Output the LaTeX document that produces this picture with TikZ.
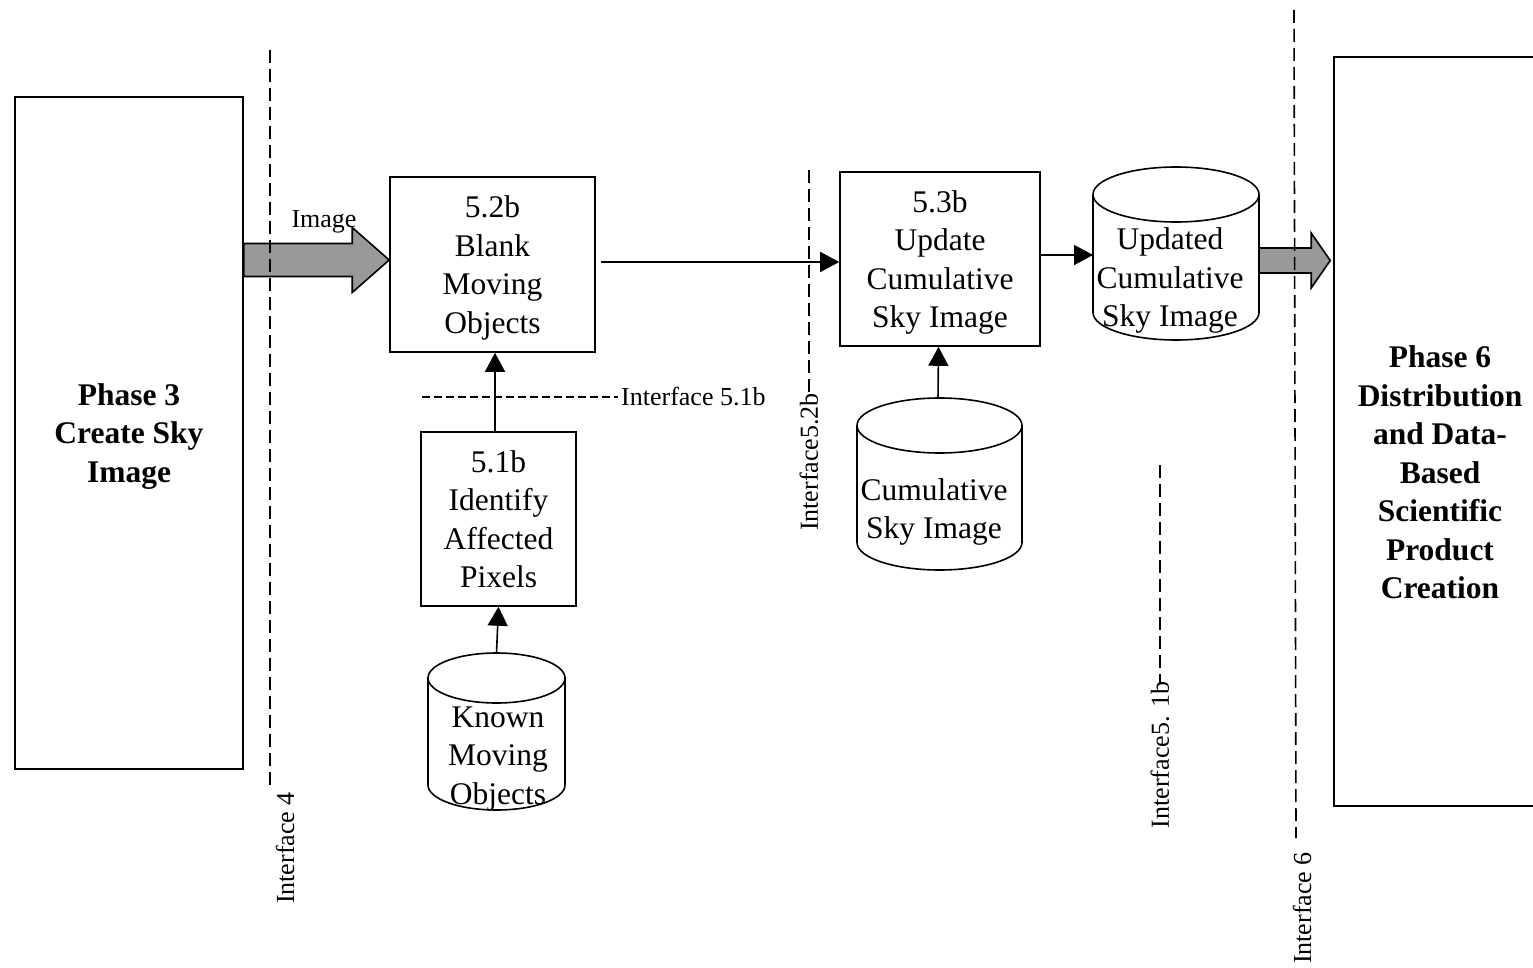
\documentclass[tikz,border=0pt]{standalone}
\usepackage{fontspec}
\setmainfont{Liberation Serif}
\usetikzlibrary{arrows.meta,calc}
\definecolor{arrowgray}{RGB}{153,153,153}
\newcommand\diagbig{\fontsize{31.5}{38.5}\selectfont}
\newcommand\diagsmall{\fontsize{26}{31}\selectfont}
% database drum drawn around an empty node: #1 node, #2 half width, #3 ellipse y radius
\newcommand\drawdrum[3]{%
  \draw[drumline] ($(#1.north west)+(0,#3)$) -- ($(#1.south west)+(0,-#3)$)
    arc[start angle=180,end angle=360,x radius=#2pt,y radius=#3pt]
    -- ($(#1.north east)+(0,#3)$);
  \draw[drumline] ($(#1.north)+(0,#3)$) ellipse[x radius=#2pt,y radius=#3pt];}
\begin{document}
\begin{tikzpicture}[x=1pt,y=-1pt,
  box/.style={draw,line width=1.6pt,inner sep=0pt,align=center,font=\diagbig,text depth=0pt},
  bigbold/.style={align=center,font=\diagbig\bfseries,inner sep=0pt},
  drumbody/.style={inner sep=0pt,outer sep=0pt},
  drumline/.style={line width=1.6pt},
  drumtext/.style={align=center,font=\diagbig,inner sep=0pt},
  flow/.style={line width=1.6pt,-{Triangle[length=19pt,width=20pt]}},
  iface/.style={line width=1.6pt,dash pattern=on 13pt off 6pt},
  ifacethin/.style={line width=1.1pt,dash pattern=on 8pt off 4pt},
  iflabel/.style={font=\diagsmall,inner sep=0pt,rotate=90},
  bigarrow/.style={draw,line width=1.6pt,fill=arrowgray,line join=miter}]
\useasboundingbox (0,0) rectangle (1533,968);

% phase boxes
\node[box,bigbold,minimum width=228,minimum height=672] (p3) at (129,433)
  {Phase 3\\Create Sky\\Image};
\node[box,minimum width=212,minimum height=749] (p6) at (1440,431.5) {};
\node[bigbold] (p6t) at (1440,472.5)
  {Phase 6\\Distribution\\and Data-\\Based\\Scientific\\Product\\Creation};

% process boxes
\node[box,minimum width=205,minimum height=175] (b52) at (492.5,264.5)
  {5.2b\\Blank\\Moving\\Objects};
\node[box,minimum width=200,minimum height=174] (b53) at (940,259)
  {5.3b\\Update\\Cumulative\\Sky Image};
\node[box,minimum width=155,minimum height=174] (b51) at (498.5,519)
  {5.1b\\Identify\\Affected\\Pixels};

% data stores
\node[drumbody,minimum width=166,minimum height=173] (upd) at (1176,253.5) {};
\drawdrum{upd}{83}{27.5}
\node[drumtext] (updt) at (1170,280.5) {Updated\\Cumulative\\Sky Image};

\node[drumbody,minimum width=165,minimum height=172] (cum) at (939.5,484) {};
\drawdrum{cum}{82.5}{27.5}
\node[drumtext] (cumt) at (934,512) {Cumulative\\Sky Image};

\node[drumbody,minimum width=137,minimum height=157] (km) at (496.5,731.5) {};
\drawdrum{km}{68.5}{25}
\node[drumtext] (kmt) at (498,759) {Known\\Moving\\Objects};

% block arrows
\coordinate (imgrow) at (0,260);
\coordinate (A1) at (p3.east |- imgrow);
\coordinate (A1t) at (b52.west |- imgrow);
\path[bigarrow] ($(A1)+(0,-16.5)$) -- ($(A1t)+(-37,-16.5)$) -- ($(A1t)+(-37,-32.5)$)
  -- (A1t) -- ($(A1t)+(-37,32.5)$) -- ($(A1t)+(-37,16.5)$) -- ($(A1)+(0,16.5)$) -- cycle;
\node[font=\diagsmall,inner sep=0pt] (imgl) at (324,222) {Image};

\coordinate (outrow) at (0,260.5);
\coordinate (A2) at (upd.east |- outrow);
\coordinate (A2t) at ([xshift=-3pt]p6.west |- outrow);
\path[bigarrow] ($(A2)+(0,-12.5)$) -- ($(A2t)+(-19,-12.5)$) -- ($(A2t)+(-19,-27.5)$)
  -- (A2t) -- ($(A2t)+(-19,27.5)$) -- ($(A2t)+(-19,12.5)$) -- ($(A2)+(0,12.5)$) -- cycle;

% flow connectors
\coordinate (row1) at (0,262);
\draw[flow] ([xshift=5pt]b52.east |- row1) -- (b53.west |- row1);
\coordinate (row2) at (0,255);
\draw[flow] (b53.east |- row2) -- (upd.west |- row2);
\draw[flow] ([xshift=-1.5pt]cum.north) -- ([xshift=-1.5pt]b53.south);
\draw[flow] ([xshift=-3.5pt]b51.north) -- ([xshift=-3.5pt]b51.north |- b52.south);
\draw[flow] (km.north) -- (b51.south);

% interface boundaries
\coordinate (if4a) at (270,50);
\coordinate (if4b) at (270,786);
\draw[iface] (if4a) -- (if4b);
\node[iflabel] (if4) at (285,848) {Interface 4};

\coordinate (if52a) at (809,170);
\coordinate (if52b) at (809,392);
\draw[iface] (if52a) -- (if52b);
\node[iflabel] (if52) at (809,462) {Interface5.2b};

\coordinate (if51a) at (1160,465);
\coordinate (if51b) at (1160,683);
\draw[iface] (if51a) -- (if51b);
\node[iflabel] (if51v) at (1160,755) {Interface5. 1b};

\coordinate (if6a) at (1294,10);
\coordinate (if6b) at (1296,838);
\draw[iface] (if6a) -- (if6b);
\node[iflabel] (if6) at (1302,908) {Interface 6};

\coordinate (h51a) at (422,397);
\coordinate (h51b) at (618,397);
\draw[ifacethin] (h51a) -- (h51b);
\node[font=\diagsmall,inner sep=0pt,anchor=west] (if51h) at (621,397) {Interface 5.1b};
\end{tikzpicture}
\end{document}
